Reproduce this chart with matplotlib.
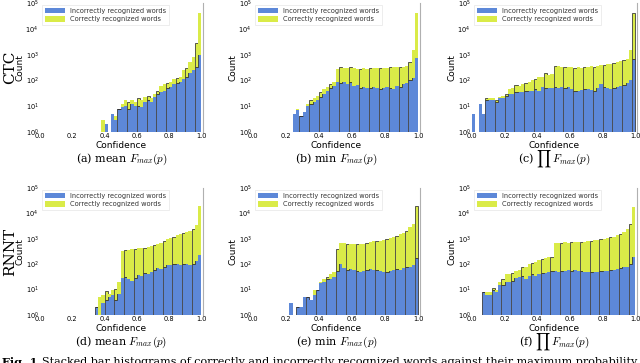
import numpy as np
import matplotlib
matplotlib.use("Agg")
import matplotlib.pyplot as plt

plt.rcParams['mathtext.fontset'] = 'cm'

# bin edges (width 0.02) -> 50 bins from 0 to 1
bin_edges = np.linspace(0, 1, 51)

# ---- CTC: mean F_max ----  (bin index: count)
a_inc = {19: 0, 20: 2, 22: 5, 23: 3, 24: 8, 25: 9, 26: 10, 27: 8, 28: 12, 29: 10, 30: 10, 31: 9,
         32: 14, 33: 18, 34: 15, 35: 22, 36: 30, 37: 35, 38: 40, 39: 50, 40: 55, 41: 70,
         42: 80, 43: 90, 44: 110, 45: 140, 46: 200, 47: 250, 48: 330, 49: 950}
a_tot = {19: 3, 20: 2, 22: 5, 23: 4, 24: 8, 25: 12, 26: 18, 27: 14, 28: 18, 29: 14, 30: 20, 31: 18,
         32: 22, 33: 25, 34: 20, 35: 30, 36: 40, 37: 60, 38: 70, 39: 80, 40: 90, 41: 110,
         42: 120, 43: 130, 44: 250, 45: 300, 46: 500, 47: 800, 48: 2700, 49: 42000}

# ---- CTC: min F_max ----
b_inc = {12: 5, 13: 7, 14: 4, 15: 6, 16: 10, 17: 12, 18: 14, 19: 18, 20: 22, 21: 30, 22: 40,
         23: 50, 24: 60, 25: 85, 26: 80, 27: 85, 28: 70, 29: 90, 30: 60, 31: 65, 32: 50,
         33: 55, 34: 50, 35: 50, 36: 55, 37: 50, 38: 45, 39: 50, 40: 55, 41: 50, 42: 45,
         43: 60, 44: 55, 45: 70, 46: 80, 47: 100, 48: 120, 49: 720}
b_tot = {12: 5, 13: 8, 14: 4, 15: 6, 16: 12, 17: 18, 18: 20, 19: 25, 20: 35, 21: 45, 22: 55,
         23: 70, 24: 90, 25: 280, 26: 320, 27: 300, 28: 300, 29: 320, 30: 300, 31: 280, 32: 280,
         33: 290, 34: 280, 35: 290, 36: 300, 37: 290, 38: 290, 39: 300, 40: 310, 41: 320, 42: 320,
         43: 330, 44: 340, 45: 340, 46: 360, 47: 500, 48: 1500, 49: 40000}

# ---- CTC: product F_max ----
c_inc = {0: 5, 2: 12, 3: 5, 4: 17, 5: 18, 6: 18, 7: 15, 8: 20, 9: 20, 10: 25, 11: 30, 12: 30,
         13: 35, 14: 35, 15: 35, 16: 38, 17: 40, 18: 40, 19: 45, 20: 40, 21: 55, 22: 50,
         23: 50, 24: 50, 25: 55, 26: 50, 27: 55, 28: 50, 29: 55, 30: 45, 31: 40, 32: 40,
         33: 42, 34: 45, 35: 45, 36: 42, 37: 40, 38: 50, 39: 70, 40: 55, 41: 50, 42: 45,
         43: 50, 44: 55, 45: 60, 46: 65, 47: 80, 48: 100, 49: 700}
c_tot = {0: 5, 2: 12, 3: 5, 4: 20, 5: 20, 6: 20, 7: 18, 8: 22, 9: 25, 10: 30, 11: 45, 12: 50,
         13: 65, 14: 60, 15: 70, 16: 80, 17: 90, 18: 100, 19: 110, 20: 140, 21: 130, 22: 200,
         23: 160, 24: 170, 25: 350, 26: 350, 27: 330, 28: 320, 29: 330, 30: 320, 31: 300, 32: 320,
         33: 310, 34: 320, 35: 330, 36: 350, 37: 330, 38: 350, 39: 380, 40: 400, 41: 420, 42: 450,
         43: 480, 44: 520, 45: 560, 46: 600, 47: 700, 48: 1500, 49: 40000}

# ---- RNNT: mean F_max ----
d_inc = {17: 2, 18: 1, 19: 3, 20: 4, 21: 5, 22: 6, 23: 4, 24: 7, 25: 28, 26: 30, 27: 25,
         28: 22, 29: 28, 30: 38, 31: 35, 32: 45, 33: 40, 34: 50, 35: 60, 36: 70, 37: 65,
         38: 80, 39: 90, 40: 95, 41: 100, 42: 100, 43: 95, 44: 100, 45: 100, 46: 95, 47: 100,
         48: 130, 49: 230}
d_tot = {17: 2, 18: 5, 19: 6, 20: 9, 21: 7, 22: 10, 23: 11, 24: 20, 25: 330, 26: 350, 27: 370,
         28: 380, 29: 380, 30: 420, 31: 430, 32: 450, 33: 480, 34: 520, 35: 560, 36: 600, 37: 700,
         38: 800, 39: 950, 40: 1100, 41: 1200, 42: 1350, 43: 1500, 44: 1650, 45: 1900, 46: 2100,
         47: 2500, 48: 3500, 49: 19000}

# ---- RNNT: min F_max ----
e_inc = {11: 3, 13: 2, 14: 2, 15: 5, 16: 5, 17: 4, 18: 6, 19: 10, 20: 18, 21: 20, 22: 25,
         23: 25, 24: 30, 25: 55, 26: 100, 27: 70, 28: 60, 29: 65, 30: 60, 31: 55, 32: 50,
         33: 55, 34: 60, 35: 65, 36: 60, 37: 60, 38: 55, 39: 50, 40: 50, 41: 55, 42: 60,
         43: 65, 44: 60, 45: 70, 46: 75, 47: 80, 48: 90, 49: 180}
e_tot = {11: 3, 13: 2, 14: 2, 15: 5, 16: 5, 17: 4, 18: 10, 19: 10, 20: 20, 21: 25, 22: 30,
         23: 40, 24: 50, 25: 400, 26: 700, 27: 700, 28: 650, 29: 650, 30: 650, 31: 600, 32: 650,
         33: 650, 34: 700, 35: 750, 36: 800, 37: 800, 38: 850, 39: 900, 40: 1000, 41: 1100,
         42: 1200, 43: 1300, 44: 1500, 45: 1700, 46: 2000, 47: 3000, 48: 4000, 49: 20000}

# ---- RNNT: product F_max ----
f_inc = {3: 8, 4: 6, 5: 6, 6: 10, 7: 8, 8: 15, 9: 15, 10: 20, 11: 20, 12: 22, 13: 28, 14: 30,
         15: 35, 16: 25, 17: 35, 18: 40, 19: 35, 20: 40, 21: 45, 22: 45, 23: 50, 24: 55,
         25: 55, 26: 50, 27: 55, 28: 55, 29: 60, 30: 55, 31: 60, 32: 55, 33: 55, 34: 50,
         35: 50, 36: 48, 37: 50, 38: 50, 39: 55, 40: 55, 41: 55, 42: 60, 43: 60, 44: 65,
         45: 70, 46: 75, 47: 80, 48: 100, 49: 200}
f_tot = {3: 8, 4: 8, 5: 8, 6: 12, 7: 10, 8: 20, 9: 25, 10: 40, 11: 40, 12: 45, 13: 55, 14: 60,
         15: 80, 16: 80, 17: 100, 18: 110, 19: 120, 20: 150, 21: 160, 22: 180, 23: 200, 24: 200,
         25: 700, 26: 700, 27: 700, 28: 720, 29: 700, 30: 720, 31: 720, 32: 730, 33: 750, 34: 780,
         35: 800, 36: 850, 37: 880, 38: 900, 39: 950, 40: 1000, 41: 1100, 42: 1150, 43: 1200,
         44: 1400, 45: 1600, 46: 1900, 47: 2500, 48: 4000, 49: 18000}

panels = [
    (a_inc, a_tot, r"(a) mean $F_{max}(p)$"),
    (b_inc, b_tot, r"(b) min $F_{max}(p)$"),
    (c_inc, c_tot, r"(c) $\prod\, F_{max}(p)$"),
    (d_inc, d_tot, r"(d) mean $F_{max}(p)$"),
    (e_inc, e_tot, r"(e) min $F_{max}(p)$"),
    (f_inc, f_tot, r"(f) $\prod\, F_{max}(p)$"),
]
row_labels = ["CTC", "RNNT"]
legend_labels = ["Incorrectly recognized words", "Correctly recognized words"]

BLUE = "#5d88d8"
YELLOW = "#daeb48"
EDGE = "#2e2e2e"

W, H = 640, 363
fig = plt.figure(figsize=(6.4, 3.63), dpi=100)

lefts = [40, 253, 472]
widths = [163, 167, 165]
row_tops = [3, 188]
row_bottoms = [132, 315]

for idx, (inc, tot, cap) in enumerate(panels):
    r, c = divmod(idx, 3)
    ax = fig.add_axes([lefts[c] / W, 1 - row_bottoms[r] / H,
                       widths[c] / W, (row_bottoms[r] - row_tops[r]) / H])
    n = len(bin_edges) - 1
    inc_arr = np.zeros(n)
    cor_arr = np.zeros(n)
    for k, v in inc.items():
        inc_arr[k] = v
    for k, v in tot.items():
        cor_arr[k] = max(v - inc.get(k, 0), 0)
    lefts_b = bin_edges[:-1]
    wb = np.diff(bin_edges)
    b1 = ax.bar(lefts_b, inc_arr, width=wb, align='edge', color=BLUE,
                linewidth=0, label=legend_labels[0])
    b2 = ax.bar(lefts_b, cor_arr, width=wb, bottom=inc_arr, align='edge', color=YELLOW,
                linewidth=0, label=legend_labels[1])
    # occasional dark outlines, as rendered in the reference image
    for i in range(n):
        if (i + c + r) % 3 == 0 and inc_arr[i] + cor_arr[i] > 0:
            for p in (b1[i], b2[i]):
                p.set_edgecolor(EDGE)
                p.set_linewidth(0.55)
    ax.set_yscale('log')
    ax.set_ylim(1, 1e5)
    ax.set_xlim(0, 1.01)
    ax.set_xticks([0.0, 0.2, 0.4, 0.6, 0.8, 1.0])
    ax.set_yticks([1, 10, 100, 1000, 1e4, 1e5])
    ax.minorticks_off()
    ax.tick_params(labelsize=4.8, length=0, pad=1)
    ax.set_xlabel("Confidence", fontsize=6.5, labelpad=1)
    ax.set_ylabel("Count", fontsize=6.5, labelpad=1)
    for s in ['left', 'bottom', 'top']:
        ax.spines[s].set_visible(False)
    ax.spines['right'].set_color('#b0b0b0')
    ax.spines['right'].set_linewidth(0.8)
    ax.patch.set_facecolor('white')
    leg = ax.legend(handles=[b1, b2], loc='upper left', fontsize=4.8, frameon=True,
                    fancybox=False, borderpad=0.4, handlelength=3.0, handleheight=0.9,
                    labelspacing=0.35, borderaxespad=0.3)
    leg.get_frame().set_edgecolor('#e0e0e0')
    leg.get_frame().set_linewidth(0.5)
    for t in leg.get_texts():
        t.set_color('#333333')
    for hp in leg.legend_handles:
        hp.set_linewidth(0)
    cx = (lefts[c] + widths[c] / 2) / W
    cy = 1 - (row_bottoms[r] + 27) / H
    fig.text(cx, cy, cap, ha='center', va='center', fontsize=8,
             family='DejaVu Serif', math_fontfamily='cm')

for r, lab in enumerate(row_labels):
    fig.text(10 / W, 1 - ((row_tops[r] + row_bottoms[r]) / 2) / H, lab, rotation=90,
             ha='center', va='center', fontsize=11, family='DejaVu Serif')

fig.text(2 / W, 1 - 362 / H, "Fig. 1.", ha='left', va='center', fontsize=8,
         family='DejaVu Serif', weight='bold')
fig.text(42 / W, 1 - 362 / H,
         "Stacked bar histograms of correctly and incorrectly recognized words against their maximum probability",
         ha='left', va='center', fontsize=8, family='DejaVu Serif')

fig.savefig("out.png", dpi=100)
